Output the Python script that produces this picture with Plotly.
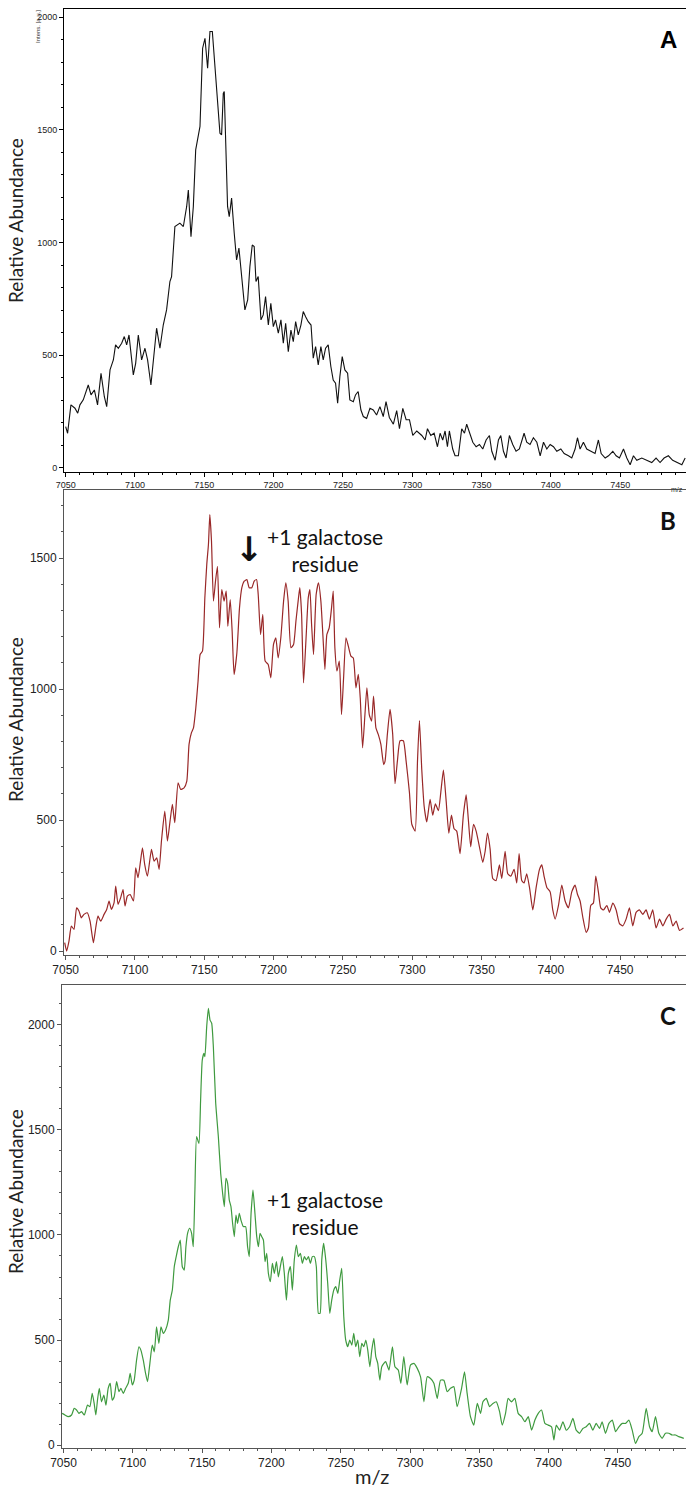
import plotly.graph_objects as go

# ---------------- data ----------------
mz_a = [7050, 7051.4, 7053.8, 7056.7, 7058.7, 7060.3, 7062.7, 7064.4, 7066.3, 7068.3, 7070.7, 7073, 7075.5, 7077.9,
        7079.6, 7082, 7084.4, 7086, 7088, 7090.4, 7092.3, 7094, 7095.7, 7098.8, 7100.5, 7102.4, 7104.8, 7107.2,
        7109.1, 7111.5, 7114, 7115.6, 7118, 7120.4, 7122.8, 7125.2, 7126.4, 7128.8, 7132.4, 7134.9, 7137.3, 7138.5,
        7140.4, 7142.1, 7143.8, 7145.7, 7146.9, 7148.8, 7150.5, 7152.4, 7154.1, 7155.8, 7157.7, 7159.6, 7161.3,
        7162.5, 7163.7, 7164.4, 7165.4, 7166.8, 7168, 7169.7, 7171.6, 7173.3, 7175, 7176.9, 7179.3, 7181.3, 7182.9,
        7184.6, 7186, 7187.3, 7188.9, 7190.9, 7192.5, 7194.2, 7196.2, 7198, 7199.8, 7201.4, 7203.4, 7205.3, 7207,
        7208.7, 7210.6, 7212.5, 7214.2, 7215.9, 7217.8, 7219.7, 7221.4, 7223.1, 7225, 7227, 7228.6, 7230.3, 7232.2,
        7234.1, 7235.8, 7237.5, 7239.4, 7241.3, 7243, 7244.7, 7246.2, 7247.8, 7249.5, 7251.4, 7253.4, 7255, 7257.5,
        7259.1, 7261, 7263, 7264.7, 7267.1, 7269.5, 7271.9, 7274.3, 7276.7, 7279.1,
        7281.1, 7283.5, 7286.4, 7288.8, 7290.8, 7293.2, 7295.6, 7298, 7300.4, 7303.3, 7306.9, 7309.3, 7311, 7313.4,
        7315.8, 7318.2, 7320.1, 7322, 7323.7, 7325.4, 7326.8, 7329.2, 7330.9, 7333.3, 7335.7, 7337.7, 7339.3, 7341.3,
        7343.7, 7346.1, 7348.5, 7350.9, 7353.3, 7355.7, 7357.4, 7359.8, 7362.2, 7363.9, 7365.8, 7367.7, 7370.1,
        7372.5, 7374.9, 7377.3, 7380.7, 7382.6, 7385, 7387.4, 7389.9, 7392.3, 7394.7, 7397.1, 7399.5, 7401.9, 7404.3,
        7407.2, 7409.6, 7412.7, 7415.1, 7417.5, 7419.2, 7421.1, 7423.5, 7425.9, 7428.8, 7431.9, 7434.3, 7436.3,
        7439.2, 7441.6, 7444.7, 7447.1, 7449.5, 7452.4, 7454.8, 7457.2, 7459.6, 7462, 7465.6, 7469.2, 7472.8, 7475.9,
        7478.8, 7481.7, 7484.8, 7487.9, 7490.9, 7494.5, 7496.9]
int_a = [183, 154, 280, 265, 243, 280, 302, 331, 368, 324, 346, 280, 420, 316,
         272, 435, 479, 546, 531, 553, 583, 546, 590, 413, 464, 590, 479, 531,
         479, 368, 538, 620, 531, 634, 701, 827, 849, 1071, 1086, 1071, 1160, 1233,
         1026, 1160, 1411, 1478, 1515, 1862, 1906, 1773, 1936, 1936, 1781, 1633, 1485,
         1478, 1662, 1670, 1411, 1160, 1115, 1197, 1041, 923, 975, 849, 701, 745, 893,
         989, 982, 827, 849, 657, 679, 760, 634, 730, 627, 657, 598, 657, 553,
         642, 516, 612, 560, 649, 590, 634, 694, 671, 649, 634, 487, 538, 457,
         538, 479, 531, 546, 450, 390, 376, 287, 405, 494, 435, 420, 302, 294,
         324, 339, 257, 228, 220, 265, 257, 235, 272, 228,
         294, 224, 194, 254, 174, 264, 214, 214, 144, 164, 144, 124, 174, 144,
         154, 94, 154, 124, 164, 94, 164, 84, 54, 54, 174, 154, 194, 154,
         114, 94, 104, 84, 124, 144, 74, 34, 124, 144, 74, 44, 144,
         104, 74, 84, 154, 114, 104, 134, 114, 54, 114, 84, 104, 94, 74,
         84, 64, 54, 44, 84, 134, 84, 114, 84, 74, 64, 124, 64,
         44, 54, 74, 54, 44, 84, 44, 14, 54, 34, 44, 34, 24, 44,
         24, 44, 54, 34, 24, 14, 44]

mz_b = [7049.3, 7050.7, 7052.4, 7054.1, 7056, 7057.9, 7059.6, 7061.3, 7063.2, 7065.6, 7067.6, 7070, 7071.7, 7073.3,
        7075.3, 7077.7, 7079.6, 7081.3, 7083, 7084.9, 7086.1, 7087.8, 7089.7, 7091.4, 7092.8, 7094.5, 7096.5, 7098.9,
        7100.5, 7102.2, 7103.7, 7105.4, 7107, 7109, 7111.9, 7113.8, 7115.7, 7117.4, 7119.1, 7121.5, 7123.4, 7125.3,
        7127, 7128.7, 7131.1, 7133, 7135.4, 7137.4, 7139, 7140.7, 7142.2, 7143.9, 7145.5, 7147, 7148.7, 7150.4,
        7151.8, 7153, 7154, 7155.2, 7156.6, 7158.1, 7159.5, 7161, 7162.6, 7164.3, 7165.8, 7167, 7168.7, 7170.1,
        7171.5, 7173.5, 7175.4, 7177.1, 7178.8, 7180.7, 7182.4, 7184.3, 7186, 7187.7, 7188.9, 7190.6, 7192.2, 7193.9,
        7196.1, 7198, 7199.9, 7201.6, 7203.3, 7205.2, 7207.2, 7208.8, 7210.5, 7212.5, 7214.4, 7216.1, 7217.7, 7218.9,
        7220.2, 7221.6, 7223.3, 7225, 7226.2, 7227.4, 7228.8, 7230.7, 7232.4, 7234.1, 7235.6, 7237, 7238.4, 7240.1,
        7241.8, 7243, 7244.2, 7245.7, 7247.4, 7249, 7250.5, 7252.2, 7253.9, 7255.8, 7257.5, 7259.4, 7261.1, 7262.5,
        7264.2, 7265.9, 7267.3, 7269, 7270.7, 7272.1, 7273.8, 7275.5, 7277.4, 7279.4,
        7280.4, 7282.1, 7284, 7285.9, 7287.6, 7289.3, 7291.2, 7293.6, 7295.6, 7298, 7299.7, 7302.1, 7303.8, 7305.2,
        7306.9, 7308.6, 7310.5, 7312.9, 7314.8, 7316.7, 7318.9, 7320.6, 7322.5, 7324.4, 7326.4, 7328.3, 7330.2,
        7332.1, 7334.5, 7336.9, 7338.9, 7340.5, 7342.2, 7344.2, 7346.1, 7348.5, 7350.9, 7352.6, 7354.3, 7356.2,
        7358.1, 7360.5, 7362.9, 7364.6, 7367, 7368.9, 7371.1, 7373.5, 7375.4, 7377.1, 7379, 7380.7, 7382.6, 7384.6,
        7387, 7389.4, 7391.8, 7393.5, 7395.1, 7397.1, 7399.5, 7401.4, 7403.1, 7405.5, 7407.9, 7410.3, 7412.7, 7415.1,
        7417.5, 7419.2, 7421.1, 7423, 7425.5, 7427.1, 7428.8, 7430.7, 7432.4, 7434.3, 7436, 7438, 7440.4, 7442.3,
        7444.7, 7447.1, 7449.5, 7451.9, 7454.3, 7456.7, 7459.1, 7461.5, 7463.9, 7466.3, 7468.7, 7471.1, 7473.5,
        7475.9, 7478.4, 7480.8, 7483.2, 7485.6, 7488, 7490.4, 7492.8, 7495.7]
int_b = [32, 0, 38, 95, 83, 165, 153, 127, 140, 146, 114, 32, 89, 134,
         114, 140, 159, 191, 159, 184, 248, 178, 204, 235, 172, 210, 216, 191,
         318, 280, 331, 394, 331, 286, 388, 343, 356, 312, 420, 534, 420, 496,
         560, 490, 642, 617, 623, 649, 789, 833, 852, 929, 1030, 1132, 1145, 1348,
         1476, 1552, 1666, 1565, 1336, 1412, 1469, 1234, 1380, 1336, 1374, 1240, 1342, 1221,
         1056, 1138, 1310, 1387, 1412, 1418, 1387, 1387, 1412, 1418, 1361, 1208, 1285, 1107,
         1094, 1043, 1170, 1196, 1119, 1196, 1336, 1406, 1336, 1158, 1170, 1259, 1336, 1387,
         1285, 1024, 1183, 1348, 1380, 1247, 1132, 1361, 1406, 1336, 1202, 1075, 1208, 1234,
         1310, 1374, 1158, 1069, 1107, 903, 1043, 1196, 1164, 1126, 1119, 1005, 1056, 967,
         776, 903, 1005, 903, 878, 973, 852, 827, 789, 712,
         725, 829, 923, 829, 639, 725, 803, 803, 725, 605, 484, 458, 725, 880,
         691, 553, 493, 579, 519, 562, 536, 605, 691, 579, 450, 519, 467,
         458, 372, 519, 596, 501, 398, 484, 458, 398, 338, 381, 450, 389,
         277, 269, 329, 277, 381, 295, 286, 312, 260, 372, 269, 260, 295, 243,
         157, 243, 312, 329, 286, 243, 226, 157, 122, 174, 252, 191, 165, 226,
         252, 217, 191, 131, 71, 88, 174, 183, 286, 226, 165, 157, 174, 148,
         183, 157, 105, 96, 122, 165, 96, 148, 157, 140, 157, 122, 157,
         88, 122, 96, 122, 140, 96, 114, 79, 88]

mz_c = [7049, 7051, 7053.4, 7055.8, 7057.7, 7059.4, 7061.1, 7063, 7065, 7067.3, 7069, 7070.7, 7072.1, 7073.3,
        7074.5, 7075.8, 7077.4, 7079.1, 7080.6, 7082.2, 7083.7, 7085.1, 7086.6, 7088.3, 7090, 7091.4, 7093.1, 7094.8,
        7096.7, 7098.1, 7099.6, 7101, 7102.7, 7104.4, 7105.8, 7107.5, 7109.2, 7110.6, 7112.3, 7114, 7115.5, 7117.1,
        7118.8, 7120.3, 7122, 7123.6, 7125.6, 7127, 7128.5, 7129.9, 7131.3, 7132.8, 7134.2, 7135.7, 7137.1, 7138.3,
        7139.5, 7141, 7142.4, 7143.6, 7144.8, 7146, 7147.7, 7148.9, 7150.1, 7151.3, 7152, 7153.3, 7154.5, 7155.7,
        7156.9, 7158.1, 7159.8, 7161.7, 7163.4, 7164.8, 7166, 7167.2, 7168.4, 7169.6, 7170.8, 7172, 7173.2, 7174.4,
        7175.6, 7176.8, 7178, 7179.7, 7181.4, 7182.8, 7184, 7185.3, 7186.7, 7188.1, 7189.4, 7190.6, 7191.8, 7193,
        7194.2, 7195.4, 7196.6, 7197.8, 7199.2, 7200.7, 7202.1, 7203.6, 7205, 7206.4, 7207.9, 7209.3, 7210.8, 7212.2,
        7213.7, 7215.1, 7216.5, 7218, 7219.4, 7220.9, 7222.3, 7223.8, 7225.2, 7226.7, 7228.1, 7229.5, 7231, 7232.4,
        7233.9, 7235.1, 7236.3, 7237.7, 7239.2, 7240.6, 7242.1, 7243.5, 7245, 7246.4, 7247.9, 7249.3, 7250.7, 7252.2,
        7253.6, 7255.1, 7256.5, 7258, 7259.4, 7260.8, 7262.3, 7263.7, 7265.2, 7266.6, 7268.1, 7269.5, 7271, 7272.4,
        7273.9, 7275.3, 7276.7, 7278.2, 7279.6,
        7282.4, 7284.8, 7287.3, 7289.1, 7291.5, 7293.4, 7295.5, 7297.9, 7300.3, 7302.8, 7305.2, 7307.6, 7310, 7312.4,
        7314.8, 7317.2, 7319.6, 7322, 7324.4, 7326.8, 7329.2, 7331.6, 7334, 7337.2, 7339.3, 7341.2, 7343.6, 7346,
        7348.5, 7350.9, 7352.6, 7355, 7357.4, 7359.8, 7362.2, 7364.6, 7366.5, 7368.9, 7370.8, 7373.2, 7375.6, 7378,
        7380.5, 7382.9, 7385.3, 7387.7, 7390.1, 7392.5, 7394.9, 7397.3, 7399.7, 7402.1, 7403.8, 7405.5, 7407.9,
        7410.3, 7412.7, 7415.1, 7417.5, 7419.9, 7422.3, 7424.7, 7427.1, 7429.5, 7431.9, 7434.3, 7436.7, 7438.6, 7441,
        7443.5, 7445.9, 7448.3, 7450.7, 7453.1, 7455.5, 7457.9, 7460.3, 7462.7, 7465.1, 7467.5, 7470.4, 7472.8,
        7474.7, 7477.1, 7479.5, 7481.9, 7484.3, 7486.7, 7489.1, 7491.5, 7493.9, 7497.5]
int_c = [151, 143, 135, 143, 175, 167, 151, 159, 143, 190, 183, 246, 198, 143,
         214, 270, 206, 238, 190, 270, 294, 214, 230, 302, 254, 270, 246, 270,
         294, 341, 286, 309, 405, 468, 452, 405, 341, 302, 389, 476, 444, 563,
         484, 563, 532, 548, 595, 690, 738, 849, 897, 944, 976, 849, 833, 944,
         1008, 1032, 1008, 944, 1214, 1468, 1436, 1643, 1833, 1865, 1849, 1992, 2079, 2023,
         2008, 1896, 1627, 1468, 1293, 1198, 1135, 1270, 1246, 1166, 1135, 1055, 992, 1095,
         1055, 1103, 1071, 1040, 1040, 944, 897, 1103, 1214, 1103, 992, 944, 1008, 992,
         976, 873, 913, 817, 778, 865, 817, 873, 801, 849, 897, 817, 690, 817,
         849, 738, 881, 952, 897, 913, 865, 897, 881, 897, 865, 897, 897, 849,
         627, 627, 881, 960, 881, 770, 627, 690, 738, 754, 722, 786, 841, 611,
         500, 468, 500, 476, 532, 468, 500, 421, 484, 468, 500, 452, 373, 452,
         508, 421, 389, 309, 373,
         397, 357, 468, 373, 357, 294, 421, 286, 381, 389, 365, 325, 206, 325,
         317, 294, 222, 309, 309, 254, 270, 278, 183, 270, 349, 246, 135, 95,
         198, 151, 206, 222, 183, 198, 206, 159, 95, 151, 222, 206, 222, 151,
         135, 111, 135, 71, 119, 151, 167, 103, 95, 87, 24, 95, 71,
         111, 71, 87, 127, 71, 56, 79, 87, 103, 71, 103, 79, 111, 56,
         103, 119, 64, 87, 103, 103, 119, 71, 8, 40, 56, 175, 87,
         64, 135, 56, 32, 56, 56, 48, 48, 40, 32]

x_ticks = [7050, 7100, 7150, 7200, 7250, 7300, 7350, 7400, 7450]
x_tick_labels = ["7050", "7100", "7150", "7200", "7250", "7300", "7350", "7400", "7450"]
y_ticks_a = [0, 500, 1000, 1500, 2000]
y_ticks_b = [0, 500, 1000, 1500]
y_ticks_c = [0, 500, 1000, 1500, 2000]

panel_labels = ["A", "B", "C"]
y_title = "Relative Abundance"
x_title = "m/z"
note_text = "+1 galactose<br>residue"

# ---------------- layout helpers ----------------
W, H = 686, 1488


def fy(p):
    return 1 - p / H


def fx(p):
    return p / W


TICKFONT = "Liberation Sans, Arial, sans-serif"
TEXTFONT = "Lato, Open Sans, sans-serif"

fig = go.Figure()
fig.add_trace(go.Scatter(x=mz_a, y=int_a, mode="lines", xaxis="x", yaxis="y",
                         line=dict(color="#111111", width=1.1), showlegend=False))
fig.add_trace(go.Scatter(x=mz_b, y=int_b, mode="lines", xaxis="x2", yaxis="y2",
                         line=dict(color="#992828", width=1.2, shape="spline", smoothing=0.5),
                         showlegend=False))
fig.add_trace(go.Scatter(x=mz_c, y=int_c, mode="lines", xaxis="x3", yaxis="y3",
                         line=dict(color="#3f9a3f", width=1.2, shape="spline", smoothing=0.5),
                         showlegend=False))


def xax(anchor, dom, rng, color, fsize, fcolor):
    return dict(domain=dom, range=rng, anchor=anchor, tickmode="array", tickvals=x_ticks,
                ticktext=x_tick_labels, ticks="outside", ticklen=4, tickcolor=color,
                tickfont=dict(family=TICKFONT, size=fsize, color=fcolor),
                minor=dict(tickmode="linear", tick0=7050, dtick=10, ticks="outside",
                           ticklen=2, tickcolor=color),
                showline=True, linecolor=color, linewidth=1, mirror=True,
                showgrid=False, zeroline=False, fixedrange=True, automargin=False)


def yax(anchor, dom, rng, ticks, color, fsize, fcolor):
    return dict(domain=dom, range=rng, anchor=anchor, tickmode="array", tickvals=ticks,
                ticks="outside", ticklen=4, tickcolor=color,
                tickfont=dict(family=TICKFONT, size=fsize, color=fcolor),
                minor=dict(tickmode="linear", tick0=0, dtick=100, ticks="outside",
                           ticklen=2, tickcolor=color),
                showline=True, linecolor=color, linewidth=1,
                showgrid=False, zeroline=False, fixedrange=True, automargin=False)


fig.update_layout(
    template="none",
    width=W, height=H, margin=dict(l=0, r=0, t=0, b=0, pad=0),
    paper_bgcolor="white", plot_bgcolor="white", showlegend=False,
    xaxis=xax("y", [fx(64), 1], [7048.8, 7497.5], "#000000", 9, "#222222"),
    yaxis=yax("x", [fy(472), fy(9)], [-18, 2036], y_ticks_a, "#000000", 9, "#222222"),
    xaxis2=xax("y2", [fx(64), 1], [7048.8, 7497.5], "#555555", 12, "#222222"),
    yaxis2=yax("x2", [fy(955), fy(490)], [-15, 1760], y_ticks_b, "#555555", 12, "#222222"),
    xaxis3=xax("y3", [fx(62), 1], [7048.9, 7499.1], "#555555", 12, "#222222"),
    yaxis3=yax("x3", [fy(1448), fy(985)], [-14, 2190], y_ticks_c, "#555555", 12, "#222222"),
)

ann = []
# y-axis titles
for yc in (221, 720, 1192):
    ann.append(dict(text=y_title, x=fx(15), y=fy(yc), xref="paper", yref="paper",
                    xanchor="center", yanchor="middle", textangle=-90, showarrow=False,
                    font=dict(family=TEXTFONT, size=19, color="#222222")))
# panel letters
ann.append(dict(text="<b>" + panel_labels[0] + "</b>", x=fx(668), y=fy(40), xref="paper", yref="paper",
                xanchor="center", yanchor="middle", showarrow=False,
                font=dict(family="Liberation Sans, Arial", size=24, color="#000000")))
ann.append(dict(text="<b>" + panel_labels[1] + "</b>", x=fx(668), y=fy(520), xref="paper", yref="paper",
                xanchor="center", yanchor="middle", showarrow=False,
                font=dict(family=TEXTFONT, size=24, color="#111111")))
ann.append(dict(text="<b>" + panel_labels[2] + "</b>", x=fx(668), y=fy(1015), xref="paper", yref="paper",
                xanchor="center", yanchor="middle", showarrow=False,
                font=dict(family=TEXTFONT, size=24, color="#111111")))
# galactose notes
ann.append(dict(text=note_text, x=fx(325), y=fy(550), xref="paper", yref="paper",
                xanchor="center", yanchor="middle", showarrow=False,
                font=dict(family=TEXTFONT, size=21, color="#111111")))
ann.append(dict(text="<b>\u2193</b>", x=fx(250), y=fy(549), xref="paper", yref="paper",
                xanchor="center", yanchor="middle", showarrow=False,
                font=dict(family="DejaVu Sans", size=34, color="#111111")))
ann.append(dict(text=note_text, x=fx(325), y=fy(1213), xref="paper", yref="paper",
                xanchor="center", yanchor="middle", showarrow=False,
                font=dict(family=TEXTFONT, size=21, color="#111111")))
# small instrument labels in panel A
ann.append(dict(text="Intens. [a.u.]", x=fx(38), y=fy(27), xref="paper", yref="paper",
                xanchor="center", yanchor="middle", textangle=-90, showarrow=False,
                font=dict(family=TICKFONT, size=6, color="#333333")))
ann.append(dict(text=x_title, x=fx(685), y=fy(489), xref="paper", yref="paper",
                xanchor="right", yanchor="middle", showarrow=False,
                font=dict(family=TICKFONT, size=7, color="#333333")))
# bottom x title
ann.append(dict(text=x_title, x=fx(372), y=fy(1476), xref="paper", yref="paper",
                xanchor="center", yanchor="middle", showarrow=False,
                font=dict(family=TEXTFONT, size=20, color="#222222")))
fig.update_layout(annotations=ann)

fig.write_html("out.html")
